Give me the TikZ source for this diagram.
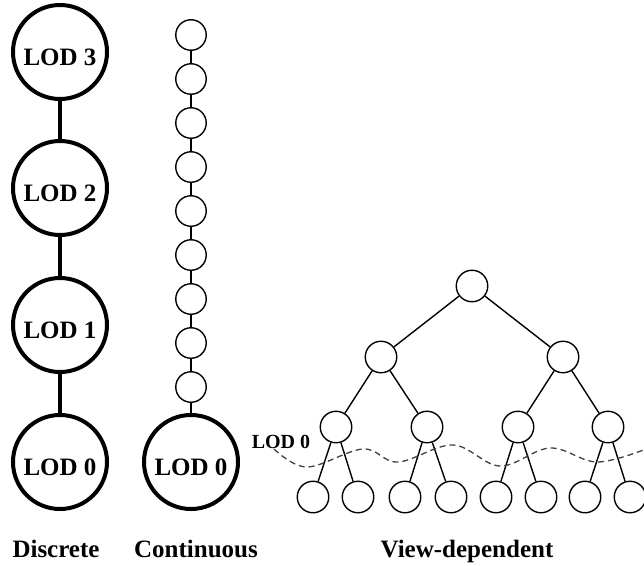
\documentclass[tikz,border=0pt]{standalone}
\usepackage{fontspec}
\setmainfont{Liberation Serif}
\begin{document}
\begin{tikzpicture}[x=1pt,y=-1pt,
  bigc/.style={circle,draw,line width=4pt,inner sep=0pt,minimum size=94pt,text height=26pt,text depth=0pt,font=\bfseries\fontsize{25}{30}\selectfont},
  smallc/.style={circle,draw,line width=1.4pt,inner sep=0pt,minimum size=30.5pt},
  treec/.style={circle,draw,line width=1.4pt,inner sep=0pt,minimum size=31.5pt},
  thickln/.style={line width=4pt},
  thinln/.style={line width=1.4pt},
  caption/.style={anchor=base,font=\bfseries\fontsize{25}{30}\selectfont}]
\useasboundingbox (0,0) rectangle (644,565);
% Discrete
\node[bigc] (d3) at (60,52) {LOD 3};
\node[bigc] (d2) at (60,188) {LOD 2};
\node[bigc] (d1) at (60,325) {LOD 1};
\node[bigc] (d0) at (60,462) {LOD 0};
\draw[thickln] (d3) -- (d2);
\draw[thickln] (d2) -- (d1);
\draw[thickln] (d1) -- (d0);
% Continuous
\foreach \i/\y in {1/35,2/79,3/123,4/167,5/211,6/255,7/299,8/343,9/387}
  \node[smallc] (c\i) at (191,\y) {};
\node[bigc] (c0) at (191,462) {LOD 0};
\foreach \a/\b in {1/2,2/3,3/4,4/5,5/6,6/7,7/8,8/9,9/0}
  \draw[thinln] (c\a) -- (c\b);
% View-dependent tree
\node[treec] (r) at (472,286) {};
\node[treec] (a1) at (381,357) {};
\node[treec] (a2) at (563,357) {};
\node[treec] (b1) at (336,427) {};
\node[treec] (b2) at (427,427) {};
\node[treec] (b3) at (518,427) {};
\node[treec] (b4) at (608,427) {};
\foreach \i/\x in {1/313,2/358,3/405,4/451,5/496,6/541,7/585,8/630}
  \node[treec] (l\i) at (\x,497) {};
\draw[thinln] (r) -- (a1);
\draw[thinln] (r) -- (a2);
\draw[thinln] (a1) -- (b1);
\draw[thinln] (a1) -- (b2);
\draw[thinln] (a2) -- (b3);
\draw[thinln] (a2) -- (b4);
\draw[thinln] (b1) -- (l1);
\draw[thinln] (b1) -- (l2);
\draw[thinln] (b2) -- (l3);
\draw[thinln] (b2) -- (l4);
\draw[thinln] (b3) -- (l5);
\draw[thinln] (b3) -- (l6);
\draw[thinln] (b4) -- (l7);
\draw[thinln] (b4) -- (l8);
% LOD 0 cut
\node[anchor=base,font=\bfseries\fontsize{20}{24}\selectfont,inner sep=0pt] (cut) at (281,448) {LOD 0};
\draw[line width=1.3pt,black!75,dash pattern=on 6pt off 4pt]
  plot[smooth,tension=0.6] coordinates {(274,449) (307,467) (363,449) (398,462) (453,445) (500,466) (550,448) (597,462) (646,449)};
% captions
\node[caption] (t1) at (56,557) {Discrete};
\node[caption] (t2) at (196,557) {Continuous};
\node[caption] (t3) at (467,557) {View-dependent};
\end{tikzpicture}
\end{document}
